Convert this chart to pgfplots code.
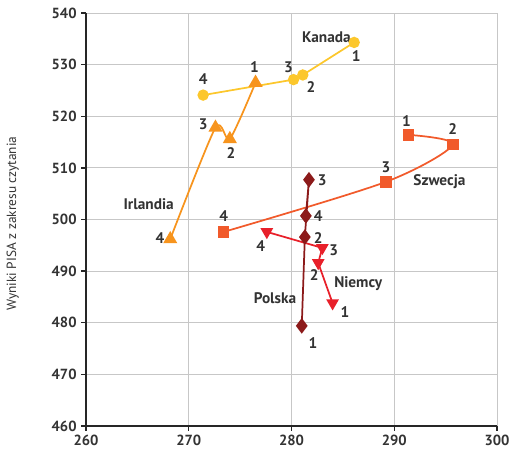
\documentclass[border=0pt]{standalone}
\usepackage{fontspec}
\setmainfont{PT Sans}
\usepackage{pgfplots}
\pgfplotsset{compat=1.18}

\definecolor{kan}{HTML}{FCC72C}
\definecolor{irl}{HTML}{F7941D}
\definecolor{szw}{HTML}{F15A2B}
\definecolor{pol}{HTML}{8C1A1A}
\definecolor{nie}{HTML}{E8202A}
\definecolor{txt}{HTML}{333333}

\begin{document}
\begin{tikzpicture}
\begin{axis}[
  at={(0,0)}, anchor=south west,
  scale only axis,
  width=308.25pt, height=309.75pt,
  xmin=260, xmax=300, ymin=460, ymax=540,
  xtick={260,270,...,300}, ytick={460,470,...,540},
  axis x line*=bottom, axis y line*=left,
  axis line style={line width=1.3pt, black!85, -},
  tick style={line width=1pt, black!85},
  tick align=outside, major tick length=3.5pt,
  grid=major, grid style={black!22, line width=0.6pt},
  tick label style={font=\fontsize{11}{13}\selectfont\bfseries, text=txt},
  /pgf/number format/assume math mode=true,
  ylabel={Wyniki PISA z zakresu czytania},
  every axis y label/.style={at={(axis description cs:-0.178,0.49)}, rotate=90, anchor=center,
    font=\fontsize{10}{12}\selectfont, text=txt},
  clip=false,
]
% Kanada
\addplot[kan, line width=1.3pt, mark=*, mark size=3.6pt, mark options={fill=kan, draw=kan}]
  coordinates {(286.1,534.3) (281.1,528.0) (280.2,527.1) (271.4,524.1)};
% Irlandia
\addplot[irl, line width=1.3pt, smooth, tension=0.4, mark=triangle*, mark size=4.8pt, mark options={fill=irl, draw=irl}]
  coordinates {(276.5,526.5) (274.0,515.6) (272.6,517.8) (268.2,496.2)};
% Szwecja
\addplot[szw, line width=1.3pt, smooth, tension=0.5, mark=square*, mark size=3.7pt, mark options={fill=szw, draw=szw}]
  coordinates {(291.4,516.4) (295.7,514.5) (289.2,507.3) (273.4,497.6)};
% Polska
\addplot[pol, line width=1.3pt, mark=diamond*, mark size=4.8pt, mark options={fill=pol, draw=pol}]
  coordinates {(281.0,479.4) (281.3,496.6) (281.7,507.7) (281.4,500.7)};
% Niemcy
\addplot[nie, line width=1.3pt, mark=triangle*, mark size=4.2pt, mark options={fill=nie, draw=nie, rotate=180}]
  coordinates {(284.0,483.8) (282.6,491.6) (283.0,494.5) (277.6,497.6)};

\begin{scope}[every node/.style={font=\fontsize{11.5}{13}\selectfont\bfseries, text=txt, inner sep=0pt}]
  \node at (axis cs:283.4,535.4) {Kanada};
  \node at (axis cs:266.1,502.9) {Irlandia};
  \node at (axis cs:294.4,507.4) {Szwecja};
  \node at (axis cs:278.4,484.8) {Polska};
  \node at (axis cs:286.5,487.5) {Niemcy};
  % Kanada
  \node at (axis cs:286.3,531.6) {1};
  \node at (axis cs:281.9,525.6) {2};
  \node at (axis cs:279.7,529.5) {3};
  \node at (axis cs:271.4,527.2) {4};
  % Irlandia
  \node at (axis cs:276.4,529.6) {1};
  \node at (axis cs:274.1,512.9) {2};
  \node at (axis cs:271.4,518.5) {3};
  \node at (axis cs:267.2,496.4) {4};
  % Szwecja
  \node at (axis cs:291.2,519.1) {1};
  \node at (axis cs:295.7,517.5) {2};
  \node at (axis cs:289.2,510.1) {3};
  \node at (axis cs:273.4,500.7) {4};
  % Polska
  \node at (axis cs:282.1,476.1) {1};
  \node at (axis cs:282.6,496.4) {2};
  \node at (axis cs:283.0,507.7) {3};
  \node at (axis cs:282.6,500.7) {4};
  % Niemcy
  \node at (axis cs:285.2,482.0) {1};
  \node at (axis cs:282.2,489.2) {2};
  \node at (axis cs:284.1,494.0) {3};
  \node at (axis cs:277.0,494.8) {4};
\end{scope}
\end{axis}
\pgfresetboundingbox
\path (-64.5pt,-18.75pt) rectangle (319.5pt,319.5pt);
\end{tikzpicture}
\end{document}
